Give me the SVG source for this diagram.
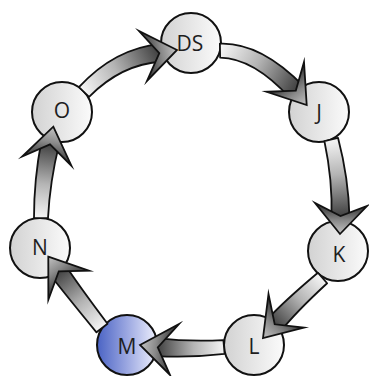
<svg xmlns="http://www.w3.org/2000/svg" width="369" height="376" viewBox="0 0 369 376">
<style>
.node circle{stroke:#111;stroke-width:2}
.node text{font-family:"Open Sans","Liberation Sans",sans-serif;font-size:21px;fill:#1e1e1e;text-anchor:middle}
.shaft{stroke:#111;stroke-width:1.8;stroke-linejoin:round}
.head{stroke:#111;stroke-width:1.8;stroke-linejoin:miter;stroke-miterlimit:10}
</style>
<defs>
<linearGradient id="nodeFill" x1="0" y1="0" x2="1" y2="0"><stop offset="0" stop-color="#d2d2d2"/><stop offset="1" stop-color="#fbfbfb"/></linearGradient>
<linearGradient id="blueFill" x1="0" y1="0" x2="1" y2="0"><stop offset="0" stop-color="#4a63c4"/><stop offset="0.5" stop-color="#9ba7e1"/><stop offset="1" stop-color="#eef0fd"/></linearGradient>
<linearGradient id="shaft"><stop offset="0" stop-color="#f5f5f5"/><stop offset="0.45" stop-color="#b4b4b4"/><stop offset="1" stop-color="#3c3c3c"/></linearGradient>
<linearGradient id="head"><stop offset="0" stop-color="#2e2e2e"/><stop offset="0.55" stop-color="#8a8a8a"/><stop offset="1" stop-color="#c4c4c4"/></linearGradient>
<linearGradient id="s1" href="#shaft" gradientUnits="userSpaceOnUse" x1="84" y1="92" x2="161.2" y2="52.8"/>
<linearGradient id="s2" href="#shaft" gradientUnits="userSpaceOnUse" x1="220" y1="50.6" x2="297" y2="92.3"/>
<linearGradient id="s3" href="#shaft" gradientUnits="userSpaceOnUse" x1="331.2" y1="139.4" x2="340.5" y2="218"/>
<linearGradient id="s4" href="#shaft" gradientUnits="userSpaceOnUse" x1="322.5" y1="278" x2="273.4" y2="325.9"/>
<linearGradient id="s5" href="#shaft" gradientUnits="userSpaceOnUse" x1="224" y1="347" x2="155.9" y2="347.1"/>
<linearGradient id="s6" href="#shaft" gradientUnits="userSpaceOnUse" x1="102" y1="328" x2="57.6" y2="269.7"/>
<linearGradient id="s7" href="#shaft" gradientUnits="userSpaceOnUse" x1="41" y1="218" x2="50.3" y2="142.4"/>
<linearGradient id="h1" href="#head" gradientUnits="userSpaceOnUse" x1="143" y1="56" x2="177" y2="50"/>
<linearGradient id="h2" href="#head" gradientUnits="userSpaceOnUse" x1="285.25" y1="76.9" x2="306.7" y2="105"/>
<linearGradient id="h3" href="#head" gradientUnits="userSpaceOnUse" x1="341" y1="204.5" x2="340" y2="234"/>
<linearGradient id="h4" href="#head" gradientUnits="userSpaceOnUse" x1="286.25" y1="310.75" x2="263" y2="338"/>
<linearGradient id="h5" href="#head" gradientUnits="userSpaceOnUse" x1="174.5" y1="349.5" x2="140" y2="345"/>
<linearGradient id="h6" href="#head" gradientUnits="userSpaceOnUse" x1="68.7" y1="285.2" x2="48.3" y2="256.7"/>
<linearGradient id="h7" href="#head" gradientUnits="userSpaceOnUse" x1="46.8" y1="161.1" x2="53.3" y2="126.7"/>
</defs>
<rect width="369" height="376" fill="#fff"/>
<g id="nodes">
<g id="node-DS" class="node"><circle cx="191" cy="43" r="30" fill="url(#nodeFill)"/><text x="190" y="51">DS</text></g>
<g id="node-J" class="node"><circle cx="319" cy="112" r="30" fill="url(#nodeFill)"/><text x="319" y="119.5">J</text></g>
<g id="node-K" class="node"><circle cx="338" cy="251" r="30" fill="url(#nodeFill)"/><text x="339" y="262">K</text></g>
<g id="node-L" class="node"><circle cx="254" cy="345" r="30" fill="url(#nodeFill)"/><text x="254" y="354">L</text></g>
<g id="node-M" class="node"><circle cx="127" cy="345" r="30" fill="url(#blueFill)"/><text x="127" y="354">M</text></g>
<g id="node-N" class="node"><circle cx="40" cy="248" r="30" fill="url(#nodeFill)"/><text x="40" y="255">N</text></g>
<g id="node-O" class="node"><circle cx="62" cy="112" r="30" fill="url(#nodeFill)"/><text x="62" y="118">O</text></g>
</g>
<g id="connectors">
<g id="edge-O-DS"><path class="shaft" fill="url(#s1)" d="M78.93,87.18 Q114.31,48.51 160.48,43.83 L161.92,61.77 Q121.69,63.99 89.07,96.82 Z"/><polygon class="head" fill="url(#h1)" points="177,50 139,31 159.3,53.2 147,81"/></g>
<g id="edge-DS-J"><path class="shaft" fill="url(#s2)" d="M219.89,43.6 Q260.39,41.95 303.54,86.12 L290.46,98.48 Q253.61,58.05 220.11,57.6 Z"/><polygon class="head" fill="url(#h2)" points="306.7,105 304,62 295.8,90.7 266.5,91.8"/></g>
<g id="edge-J-K"><path class="shaft" fill="url(#s3)" d="M338.01,137.79 Q348.76,178.79 349.5,218.06 L331.5,217.94 Q332.74,180.61 324.39,141.01 Z"/><polygon class="head" fill="url(#h3)" points="340,234 367,206 340.5,216 315,203"/></g>
<g id="edge-K-L"><path class="shaft" fill="url(#s4)" d="M327.13,283.25 Q295.42,312.54 280.23,331.76 L266.57,320.04 Q283.98,301.26 317.87,272.75 Z"/><polygon class="head" fill="url(#h4)" points="263,338 268.5,294 274.7,324.3 304,327.5"/></g>
<g id="edge-L-M"><path class="shaft" fill="url(#s5)" d="M224.62,353.97 Q190.01,358.03 155.1,356.07 L156.62,338.13 Q189.99,341.97 223.38,340.03 Z"/><polygon class="head" fill="url(#h5)" points="140,345 179,324 157.8,347.4 170,375"/></g>
<g id="edge-M-N"><path class="shaft" fill="url(#s6)" d="M96.5,332.32 Q65.75,294.8 50.29,274.94 L64.91,264.46 Q78.55,285.2 107.5,323.68 Z"/><polygon class="head" fill="url(#h6)" points="48.3,256.7 89,270.6 58.8,271.3 48.35,299.7"/></g>
<g id="edge-N-O"><path class="shaft" fill="url(#s7)" d="M34,217.83 Q33.92,179.64 41.47,140.5 L59.05,144.36 Q49.88,181.56 48,218.17 Z"/><polygon class="head" fill="url(#h7)" points="53.3,126.7 71.4,165.7 50,144.4 22.25,156.5"/></g>
</g>
</svg>
